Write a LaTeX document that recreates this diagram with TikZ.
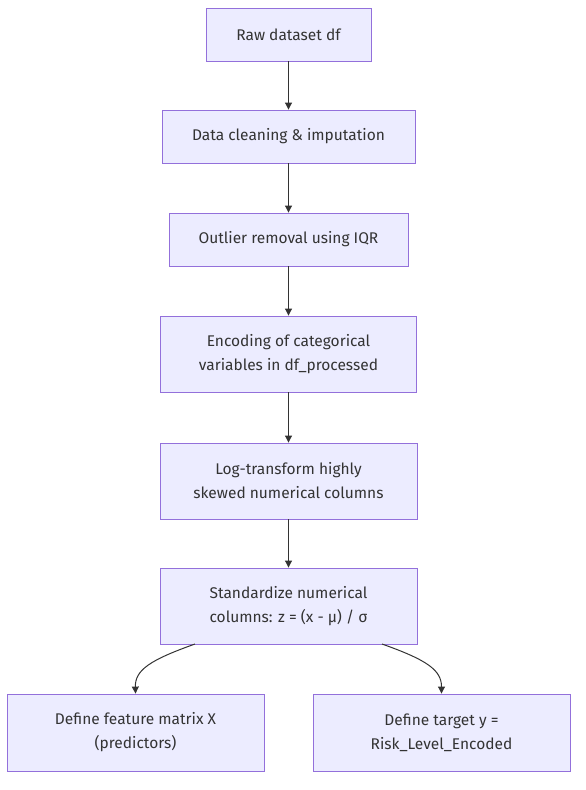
\documentclass[tikz,border=0pt]{standalone}
\usepackage{fontspec}
\setmainfont{Fira Sans}
\usetikzlibrary{arrows.meta}
\definecolor{boxfill}{HTML}{ECECFF}
\definecolor{boxline}{HTML}{9370DB}
\definecolor{edge}{HTML}{333333}
\definecolor{txt}{HTML}{333333}
\tikzset{
  box/.style={draw=boxline, fill=boxfill, line width=0.9pt, inner sep=0pt, align=center,
    font=\fontsize{15.5}{24}\selectfont, text=txt},
  conn/.style={draw=edge, line width=1pt, -{Triangle[length=7pt,width=7pt]}}
}
\begin{document}
\begin{tikzpicture}[x=1pt,y=-1pt]
\useasboundingbox (0,0) rectangle (586,790);
\node[box, minimum width=165pt, minimum height=53pt] (a) at (288.5,34.5) {Raw dataset df};
\node[box, minimum width=253pt, minimum height=53pt] (b) at (288.5,136.5) {Data cleaning \& imputation};
\node[box, minimum width=239pt, minimum height=53pt] (c) at (288.5,239.5) {Outlier removal using IQR};
\node[box, minimum width=256pt, minimum height=76pt] (d) at (288.5,354) {Encoding of categorical\\variables in df\_processed};
\node[box, minimum width=257pt, minimum height=76pt] (e) at (288.5,481) {Log-transform highly\\skewed numerical columns};
\node[box, minimum width=257pt, minimum height=76pt] (f) at (288.5,606) {Standardize numerical\\columns: z = (x - μ) / σ};
\node[box, minimum width=257pt, minimum height=77pt] (g) at (135.5,732.5) {Define feature matrix X\\(predictors)};
\node[box, minimum width=257pt, minimum height=77pt] (h) at (441.5,732.5) {Define target y =\\Risk\_Level\_Encoded};
\draw[conn] (a) -- (b);
\draw[conn] (b) -- (c);
\draw[conn] (c) -- (d);
\draw[conn] (d) -- (e);
\draw[conn] (e) -- (f);
\coordinate (fl) at (195,644);
\coordinate (fr) at (382,644);
\draw[conn] (fl) .. controls (150,660) and (135,670) .. (g.north);
\draw[conn] (fr) .. controls (427,660) and (441.5,670) .. (h.north);
\end{tikzpicture}
\end{document}
